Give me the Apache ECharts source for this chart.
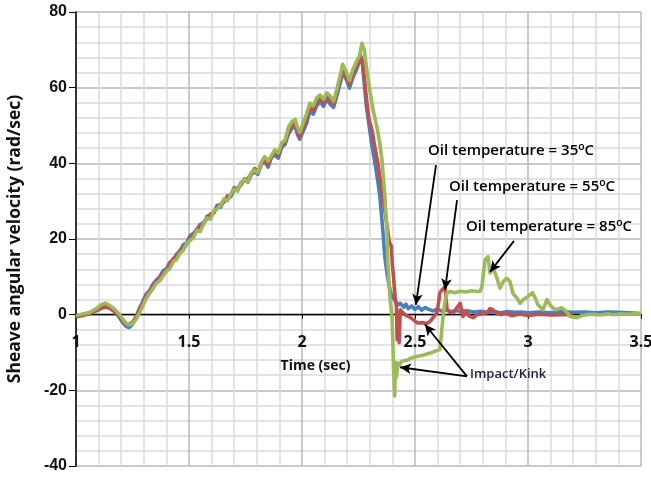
<!DOCTYPE html>
<html>
<head>
<meta charset="utf-8">
<script src="https://cdn.jsdelivr.net/npm/echarts@6/dist/echarts.min.js"></script>
<style>
  html, body { margin: 0; padding: 0; background: #fff; }
  #chart { width: 651px; height: 477px; }
</style>
</head>
<body>
<div id="chart"></div>
<script>
// Sheave angular velocity (rad/sec) against time (sec), three oil temperatures.
const xTicks = [1, 1.5, 2, 2.5, 3, 3.5];
const yTicks = [-40, -20, 0, 20, 40, 60, 80];

// 35 °C run
const oil35 = [
  [1.00,-0.5],[1.03,0.0],[1.06,0.5],[1.09,1.3],[1.11,2.1],[1.13,2.4],[1.15,1.9],[1.17,0.9],[1.19,-0.6],[1.205,-1.9],
  [1.22,-3.0],[1.235,-3.4],[1.25,-2.6],[1.265,-0.8],[1.28,1.6],[1.295,3.4],[1.31,5.4],[1.325,6.3],[1.34,8.0],[1.355,9.1],
  [1.37,10.0],[1.385,11.6],[1.40,12.1],[1.415,13.8],[1.43,14.4],[1.445,16.0],[1.46,16.8],[1.475,18.5],[1.49,19.0],[1.505,20.9],
  [1.52,21.5],[1.535,22.6],[1.55,23.9],[1.565,24.0],[1.58,26.0],[1.595,26.3],[1.61,27.0],[1.625,28.9],[1.64,28.4],[1.655,30.3],
  [1.67,31.0],[1.685,31.2],[1.70,33.0],[1.715,33.4],[1.73,34.2],[1.745,35.9],[1.76,35.0],[1.775,37.0],[1.79,37.8],[1.805,37.1],
  [1.82,39.8],[1.835,40.4],[1.85,39.0],[1.865,41.6],[1.88,42.2],[1.895,41.4],[1.91,44.2],[1.925,45.0],[1.94,47.7],[1.955,49.2],
  [1.97,49.8],[1.98,47.6],[1.99,46.4],[2.005,48.5],[2.02,50.5],[2.035,53.8],[2.05,53.0],[2.065,55.2],[2.08,56.4],[2.095,55.1],
  [2.11,56.9],[2.125,55.6],[2.14,54.8],[2.155,58.0],[2.17,61.4],[2.18,64.0],[2.195,62.3],[2.21,59.9],[2.225,62.6],[2.24,64.6],
  [2.25,66.2],[2.258,68.8],[2.266,67.0],[2.275,61.5],[2.285,55.0],[2.30,48.7],[2.31,44.5],[2.323,40.0],[2.335,35.5],[2.345,31.0],
  [2.358,22.0],[2.367,15.0],[2.376,11.0],[2.385,7.8],[2.395,5.2],[2.403,4.7],[2.415,3.4],[2.425,2.6],[2.434,3.0],[2.45,2.0],
  [2.46,2.8],[2.47,1.6],[2.485,2.3],[2.50,1.4],[2.515,2.1],[2.53,1.2],[2.545,1.9],[2.56,1.4],[2.58,1.0],[2.60,1.5],
  [2.62,0.9],[2.64,1.2],[2.66,0.8],[2.68,1.1],[2.70,0.9],[2.73,1.0],[2.76,0.7],[2.79,0.9],[2.82,0.6],[2.85,0.8],
  [2.88,0.5],[2.91,0.8],[2.94,0.6],[2.97,0.7],[3.00,0.5],[3.05,0.7],[3.10,0.5],[3.15,0.8],[3.20,0.6],[3.25,0.7],
  [3.30,0.5],[3.35,0.7],[3.40,0.6],[3.45,0.5],[3.50,0.3]
];

// 55 °C run
const oil55 = [
  [1.00,-0.6],[1.03,-0.2],[1.06,0.3],[1.09,1.0],[1.11,1.6],[1.13,2.0],[1.15,1.7],[1.17,0.8],[1.19,-0.3],[1.205,-1.4],
  [1.22,-2.3],[1.235,-2.6],[1.25,-2.0],[1.265,-0.7],[1.28,1.2],[1.295,3.0],[1.31,4.9],[1.325,6.0],[1.34,7.6],[1.355,8.5],
  [1.37,9.8],[1.385,11.0],[1.40,11.6],[1.415,13.5],[1.43,14.8],[1.445,15.1],[1.46,17.0],[1.475,17.5],[1.49,18.6],[1.505,20.5],
  [1.52,20.8],[1.535,22.5],[1.55,23.4],[1.565,24.5],[1.58,25.3],[1.595,26.6],[1.61,26.9],[1.625,28.6],[1.64,29.2],[1.655,29.8],
  [1.67,31.4],[1.685,31.5],[1.70,33.6],[1.715,33.0],[1.73,34.9],[1.745,35.4],[1.76,36.0],[1.775,37.2],[1.79,38.6],[1.805,37.8],
  [1.82,40.0],[1.835,41.0],[1.85,39.6],[1.865,41.8],[1.88,43.0],[1.895,42.0],[1.91,44.8],[1.925,45.6],[1.94,48.4],[1.955,49.9],
  [1.97,50.6],[1.98,48.3],[1.99,47.0],[2.005,49.4],[2.02,51.7],[2.035,54.8],[2.05,54.0],[2.065,56.3],[2.08,57.1],[2.095,56.0],
  [2.11,57.8],[2.125,56.7],[2.14,55.6],[2.155,59.0],[2.17,62.4],[2.18,65.0],[2.195,63.0],[2.21,60.8],[2.225,63.6],[2.24,65.6],
  [2.25,66.8],[2.26,68.2],[2.27,66.0],[2.28,60.0],[2.295,52.0],[2.31,48.7],[2.323,44.0],[2.336,40.0],[2.347,35.5],[2.358,31.0],
  [2.37,26.0],[2.38,22.0],[2.385,19.5],[2.389,18.8],[2.395,18.2],[2.40,13.0],[2.405,10.0],[2.412,4.7],[2.418,2.0],[2.421,-6.6],
  [2.425,-2.0],[2.43,-7.4],[2.435,1.3],[2.44,0.8],[2.447,0.5],[2.46,-0.2],[2.475,-0.6],[2.49,-1.2],[2.51,-2.2],[2.535,-2.1],
  [2.55,-2.4],[2.566,-1.8],[2.58,-0.8],[2.597,0.5],[2.605,3.5],[2.61,5.8],[2.62,6.6],[2.633,7.4],[2.642,1.3],[2.655,0.6],
  [2.668,0.5],[2.685,1.8],[2.70,3.0],[2.712,-0.5],[2.725,0.8],[2.74,-0.4],[2.757,-0.8],[2.775,0.0],[2.80,0.3],[2.819,0.5],
  [2.832,1.6],[2.845,1.3],[2.86,0.4],[2.88,0.0],[2.90,0.5],[2.93,-0.3],[2.96,0.2],[3.00,-0.2],[3.05,0.1],[3.10,-0.1],
  [3.15,0.0],[3.20,0.0]
];

// 85 °C run
const oil85 = [
  [1.00,-0.3],[1.03,0.2],[1.06,0.6],[1.09,1.6],[1.11,2.6],[1.13,3.1],[1.15,2.4],[1.17,1.5],[1.19,0.2],[1.205,-1.0],
  [1.22,-2.2],[1.235,-2.7],[1.25,-2.4],[1.265,-1.3],[1.28,0.4],[1.295,2.3],[1.31,4.2],[1.325,5.6],[1.34,6.8],[1.355,8.3],
  [1.37,8.9],[1.385,10.2],[1.40,11.5],[1.415,12.2],[1.43,14.0],[1.445,14.6],[1.46,16.2],[1.475,17.0],[1.49,18.9],[1.505,19.6],
  [1.52,20.4],[1.535,22.3],[1.55,22.0],[1.565,24.1],[1.58,25.6],[1.595,25.2],[1.61,27.4],[1.625,28.0],[1.64,28.9],[1.655,30.6],
  [1.67,30.1],[1.685,31.9],[1.70,33.2],[1.715,32.6],[1.73,34.8],[1.745,35.7],[1.76,35.1],[1.775,37.5],[1.79,38.2],[1.805,37.6],
  [1.82,40.3],[1.835,41.8],[1.85,40.6],[1.865,42.1],[1.88,43.6],[1.895,42.8],[1.91,45.4],[1.925,46.1],[1.94,49.6],[1.955,51.0],
  [1.97,51.6],[1.98,49.5],[1.99,48.2],[2.005,50.6],[2.02,53.1],[2.035,55.9],[2.05,55.2],[2.065,57.3],[2.08,58.1],[2.095,57.0],
  [2.11,58.6],[2.125,57.8],[2.14,56.4],[2.155,59.8],[2.17,63.5],[2.18,66.2],[2.195,64.3],[2.21,61.9],[2.225,64.8],[2.24,66.8],
  [2.255,68.5],[2.265,71.8],[2.275,70.2],[2.285,65.4],[2.30,59.2],[2.315,54.0],[2.332,49.5],[2.345,45.0],[2.354,40.8],[2.367,31.0],
  [2.376,22.0],[2.38,13.7],[2.389,4.7],[2.398,-0.5],[2.402,-7.0],[2.405,-14.5],[2.41,-21.5],[2.413,-12.6],[2.418,-16.5],[2.424,-12.8],
  [2.43,-13.4],[2.44,-12.4],[2.455,-12.1],[2.47,-11.9],[2.49,-11.3],[2.51,-11.0],[2.53,-10.8],[2.553,-10.4],[2.575,-10.0],[2.595,-9.5],
  [2.61,-9.2],[2.617,-5.0],[2.624,-0.5],[2.633,3.5],[2.642,5.8],[2.655,6.1],[2.675,5.8],[2.70,6.2],[2.725,6.0],[2.75,6.3],
  [2.775,6.1],[2.788,6.2],[2.796,7.4],[2.81,14.5],[2.823,15.3],[2.832,11.0],[2.845,12.4],[2.86,10.2],[2.876,7.0],[2.89,8.7],
  [2.905,9.6],[2.92,8.8],[2.934,5.5],[2.95,4.5],[2.965,3.0],[2.98,4.0],[3.00,4.8],[3.02,5.8],[3.035,4.0],[3.044,2.6],
  [3.066,1.3],[3.084,4.0],[3.097,2.6],[3.12,1.3],[3.15,1.8],[3.17,0.8],[3.186,-0.5],[3.217,-0.8],[3.24,-0.2],[3.26,0.0],
  [3.29,0.1],[3.32,-0.1],[3.35,0.2],[3.38,0.0],[3.41,0.2],[3.44,0.1],[3.47,0.3],[3.50,0.2]
];

// Callout arrows, [from, to] in (time, velocity)
const arrows = [
  [[2.593, 39.5], [2.504, 2.6]],
  [[2.686, 30.3], [2.633, 6.6]],
  [[2.938, 19.5], [2.832, 11.3]],
  [[2.730, -16.3], [2.434, -13.9]],
  [[2.730, -16.3], [2.544, -2.6]]
];

const W = 651, H = 477;
const gridBox = { left: 76, right: 10, top: 12, bottom: 11 };
const yMin = -40, yMax = 80;
// The time axis sits on the zero line: shift it up from the bottom edge of the grid
const plotH = H - gridBox.top - gridBox.bottom;
const zeroShift = -plotH * (0 - yMin) / (yMax - yMin);

const chart = echarts.init(document.getElementById('chart'), null, { renderer: 'canvas', width: W, height: H });

const lineSeries = (name, data, color) => ({
  name, type: 'line', data, showSymbol: false, symbol: 'none',
  lineStyle: { color, width: 3.6, join: 'round' },
  itemStyle: { color }, animation: false
});

function tempLabel(t) {
  return '{a|Oil temperature = ' + t + '}{s|o}{a|C}';
}
const tempRich = {
  a: { fontFamily: 'Open Sans', fontSize: 15, fontWeight: 600, color: '#111' },
  s: { fontFamily: 'Open Sans', fontSize: 10.5, fontWeight: 600, color: '#111', padding: [0, 0, 7, 0] }
};

chart.setOption({
  animation: false,
  backgroundColor: '#ffffff',
  grid: Object.assign({ containLabel: false, outerBoundsMode: 'none' }, gridBox),
  xAxis: {
    type: 'value', min: 1, max: 3.5, interval: 0.5,
    offset: zeroShift,
    name: 'Time (sec)', nameLocation: 'middle', nameGap: 44,
    nameTextStyle: { fontFamily: 'Open Sans', fontSize: 14, fontWeight: 'bold', color: '#111', padding: [0, 86, 0, 0] },
    axisLine: { onZero: false, lineStyle: { color: '#000', width: 1.3 } },
    axisTick: { show: true, length: 4, lineStyle: { color: '#000' } },
    axisLabel: {
      margin: 20, fontFamily: 'Open Sans', fontSize: 16, fontWeight: 'bold', color: '#111',
      formatter: v => xTicks.includes(+v.toFixed(2)) ? String(+v.toFixed(2)) : ''
    },
    splitLine: { show: true, lineStyle: { color: '#b8b8b8', width: 1.5 } },
    minorTick: { show: false, splitNumber: 5 },
    minorSplitLine: { show: true, lineStyle: { color: '#dadada', width: 1.5 } }
  },
  yAxis: {
    type: 'value', min: yMin, max: yMax, interval: 20,
    name: 'Sheave angular velocity (rad/sec)', nameLocation: 'middle', nameGap: 52,
    nameTextStyle: { fontFamily: 'Open Sans', fontSize: 17.5, fontWeight: 'bold', color: '#111' },
    axisLine: { show: true, onZero: false, lineStyle: { color: '#000', width: 1.5 } },
    axisTick: { show: true, length: 7, lineStyle: { color: '#000' } },
    axisLabel: {
      margin: 9, fontFamily: 'Liberation Sans', fontSize: 16, fontWeight: 'bold', color: '#111',
      formatter: v => yTicks.includes(v) ? String(v) : ''
    },
    splitLine: { show: true, lineStyle: { color: '#b8b8b8', width: 1.5 } },
    minorTick: { show: false, splitNumber: 5 },
    minorSplitLine: { show: true, lineStyle: { color: '#dadada', width: 1.5 } }
  },
  series: [
    lineSeries('35', oil35, '#4a7ebf'),
    lineSeries('55', oil55, '#c0504d'),
    lineSeries('85', oil85, '#9bbb59'),
    {
      type: 'line', data: [], silent: true, z: 5,
      markLine: {
        silent: true, animation: false,
        symbol: ['none', 'arrow'], symbolSize: [8, 11],
        lineStyle: { color: '#000', width: 1.8, type: 'solid' },
        label: { show: false },
        data: arrows.map(([a, b]) => [{ coord: a }, { coord: b }])
      }
    }
  ],
  graphic: [
    { type: 'text', left: 428, top: 142, z: 10, style: { text: tempLabel(35), rich: tempRich } },
    { type: 'text', left: 449, top: 178, z: 10, style: { text: tempLabel(55), rich: tempRich } },
    { type: 'text', left: 466, top: 218, z: 10, style: { text: tempLabel(85), rich: tempRich } },
    { type: 'text', left: 470, top: 368, z: 10, style: { text: 'Impact/Kink', fontFamily: 'Open Sans', fontSize: 13, fontWeight: 600, fill: '#1c2340' } }
  ]
});
</script>
</body>
</html>
